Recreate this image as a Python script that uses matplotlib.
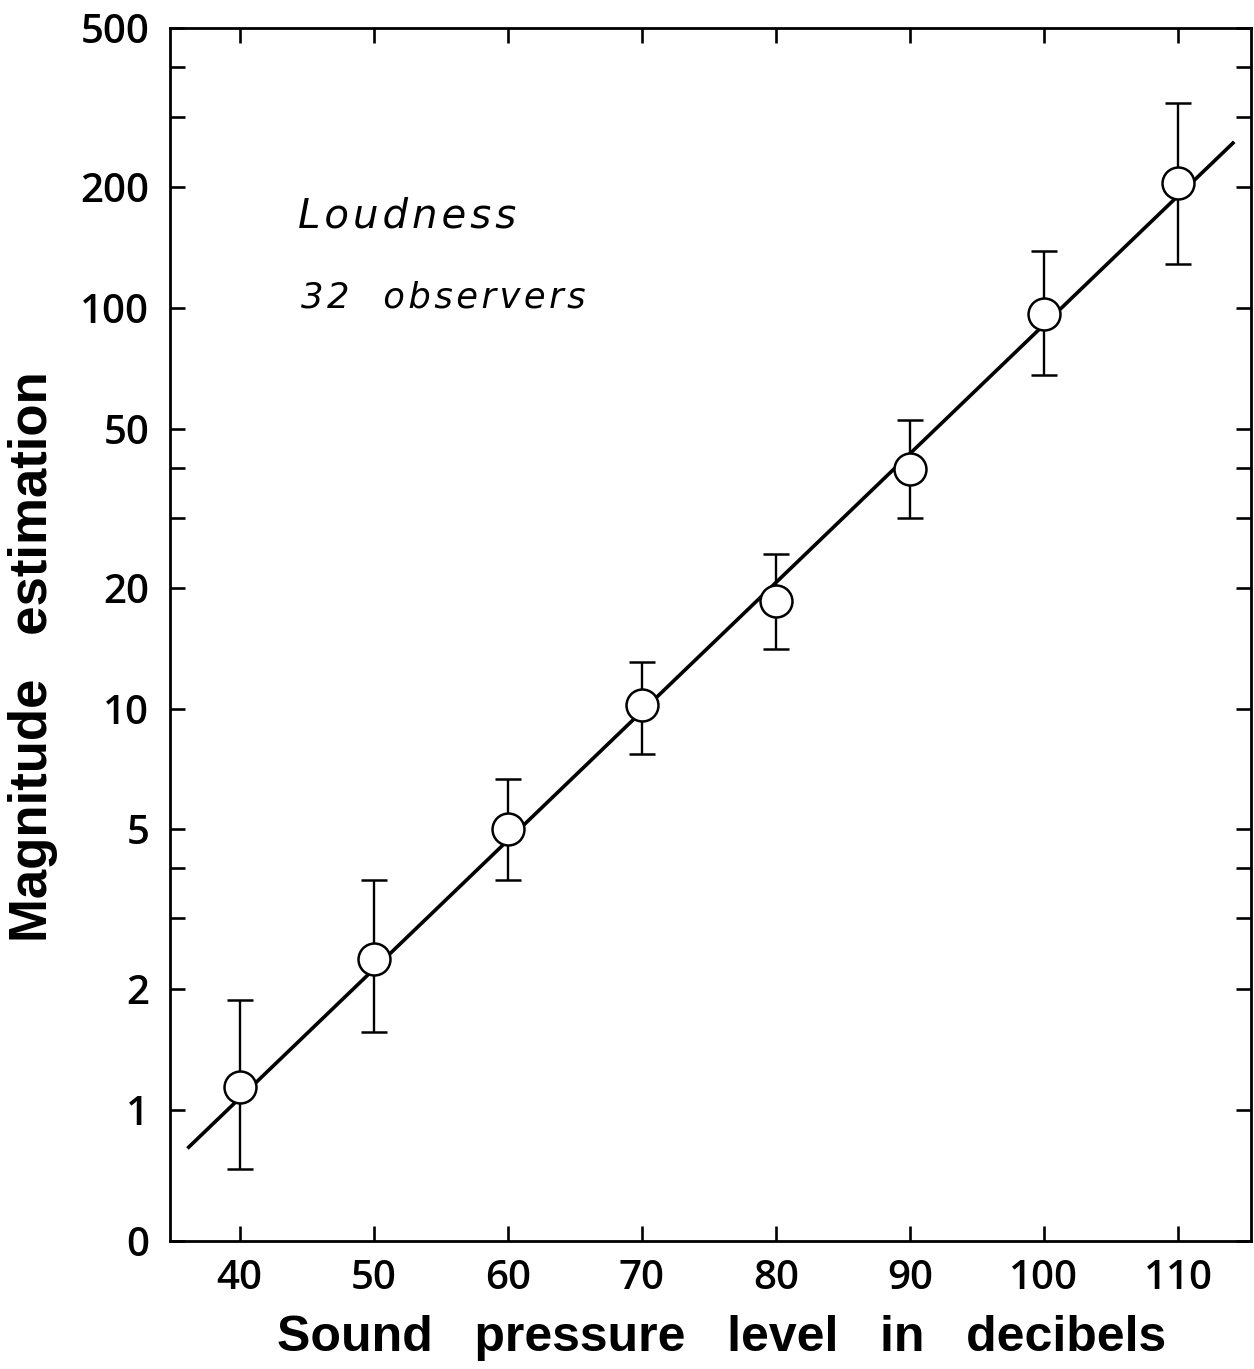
import numpy as np
import matplotlib
matplotlib.use("Agg")
import matplotlib.pyplot as plt
from matplotlib.ticker import FixedLocator, FixedFormatter, NullFormatter

# data
spl_db = [40, 50, 60, 70, 80, 90, 100, 110]
mag_est = [1.14, 2.37, 5.0, 10.2, 18.6, 39.6, 96.6, 205]
err_hi = [1.88, 3.74, 6.7, 13.1, 24.4, 52.5, 139, 325]
err_lo = [0.71, 1.56, 3.74, 7.7, 14.1, 29.9, 68, 129]

fit_x = [36.1, 114.2]
fit_y = [0.80, 260]

y_major = [0.47, 1, 2, 5, 10, 20, 50, 100, 200, 500]
y_major_labels = ["0", "1", "2", "5", "10", "20", "50", "100", "200", "500"]
y_minor = [3, 4, 30, 40, 300, 400]
x_ticks = [40, 50, 60, 70, 80, 90, 100, 110]

W, H = 1254, 1369
fig = plt.figure(figsize=(W / 100, H / 100), dpi=100)
ax = fig.add_axes([170 / W, 1 - 1241 / H, (1251 - 170) / W, (1241 - 28) / H])

ax.set_yscale("log")
ax.set_xlim(34.8, 115.45)
ax.set_ylim(0.47, 500)

ax.plot(fit_x, fit_y, color="black", lw=2.6, zorder=2, solid_capstyle="butt")

y = np.array(mag_est)
yerr = [y - np.array(err_lo), np.array(err_hi) - y]
ax.errorbar(spl_db, mag_est, yerr=yerr, fmt="none", ecolor="black",
            elinewidth=1.7, capsize=9.5, capthick=1.8, zorder=3)
ax.plot(spl_db, mag_est, "o", ms=23, mfc="white", mec="black", mew=1.8, zorder=4)

tick_font = "Open Sans"
ax.yaxis.set_major_locator(FixedLocator(y_major))
ax.yaxis.set_major_formatter(FixedFormatter(y_major_labels))
ax.yaxis.set_minor_locator(FixedLocator(y_minor))
ax.yaxis.set_minor_formatter(NullFormatter())
ax.xaxis.set_major_locator(FixedLocator(x_ticks))
ax.xaxis.set_minor_locator(FixedLocator([]))

ax.tick_params(which="both", direction="in", length=11, width=1.9,
               top=True, right=True, labelsize=29)
ax.tick_params(axis="y", which="major", pad=15)
ax.tick_params(axis="x", which="major", pad=13)
for lab in ax.get_xticklabels() + ax.get_yticklabels():
    lab.set_family(tick_font)
    lab.set_weight("semibold")

for sp in ax.spines.values():
    sp.set_linewidth(2.0)

# letter-spaced italic annotations
ax.text(298, 1369 - 228, "\u200a".join("Loudness"),
        transform=None, fontsize=29, style="italic", family="DejaVu Sans",
        ha="left", va="baseline")
ax.text(301, 1369 - 308, "3\u200a2   " + "\u200a".join("observers"),
        transform=None, fontsize=25.5, style="italic", family="DejaVu Sans",
        ha="left", va="baseline")

fig.text(722 / W, 1 - 1338 / H, "Sound   pressure   level   in   decibels",
         fontsize=36, weight="bold", family="Liberation Sans",
         ha="center", va="center")
fig.text(33 / W, 1 - 657 / H, "Magnitude   estimation",
         fontsize=38, weight="bold", family="Liberation Sans",
         rotation=90, ha="center", va="center")

fig.savefig("out.png", dpi=100, facecolor="white")
